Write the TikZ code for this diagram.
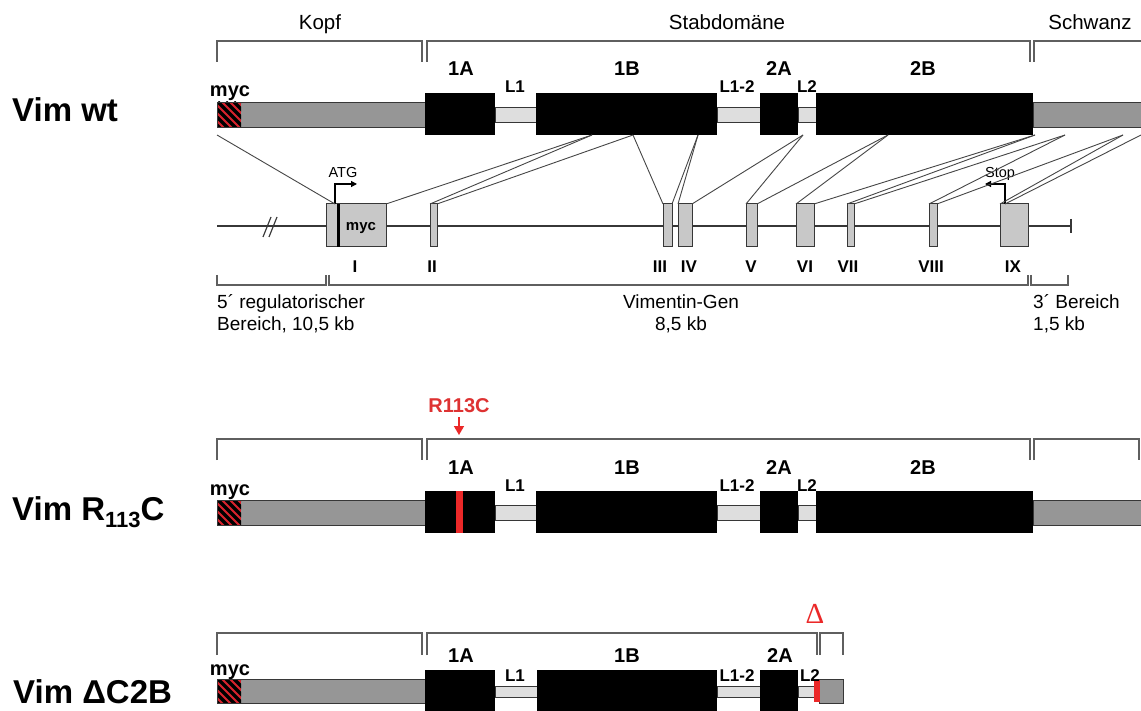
\documentclass[tikz,border=0pt]{standalone}
\usepackage{fontspec}
\setmainfont{Liberation Sans}
\newfontfamily\serifdelta{Liberation Serif}
\usetikzlibrary{arrows.meta}
\definecolor{barg}{RGB}{150,150,150}
\definecolor{lnkg}{RGB}{222,222,222}
\definecolor{exg}{RGB}{200,200,200}
\definecolor{lineg}{RGB}{55,55,55}
\definecolor{brkg}{RGB}{95,95,95}
\definecolor{conng}{RGB}{70,70,70}
\definecolor{mycred}{RGB}{215,35,45}
\definecolor{mutred}{RGB}{235,40,40}
\definecolor{txtred}{RGB}{222,50,50}
\newcommand\fs[1]{\fontsize{#1}{#1}\selectfont}
\newcommand\mychatch[2]{%
  \begin{scope}
    \clip (218,#1) rectangle (241,#2);
    \fill[mycred] (218,#1) rectangle (241,#2);
    \foreach \k in {0,8,...,56} \draw[black,line width=3.2] (186+\k,#1) -- ++(30,30);
  \end{scope}}
\begin{document}
\begin{tikzpicture}[x=1pt,y=-1pt,
  dom/.style={fill=black},
  hbar/.style={fill=barg,draw=lineg,line width=0.9},
  lbar/.style={fill=lnkg,draw=lineg,line width=0.9},
  brk/.style={draw=brkg,line width=1.6},
  conn/.style={draw=conng,line width=0.9},
  exon/.style={draw=lineg,fill=exg,line width=1,inner sep=0,outer sep=0,minimum height=43pt},
  dlab/.style={font=\bfseries\fs{20},anchor=base,inner sep=0},
  llab/.style={font=\bfseries\fs{17},anchor=base,inner sep=0},
  rowlab/.style={font=\bfseries\fs{33},anchor=base west,inner sep=0},
  reglab/.style={font=\fs{20.5},anchor=base,inner sep=0},
  elab/.style={font=\bfseries\fs{17},anchor=base,inner sep=0},
  gtxt/.style={font=\fs{19},anchor=base west,inner sep=0},
  gtxtc/.style={font=\fs{19},anchor=base,inner sep=0},
  tinylab/.style={font=\fs{14.5},anchor=base,inner sep=0},
  arr/.style={draw=black,line width=1.2,-{Triangle[length=6pt,width=6pt]}},
]
\fill[white] (0,0) rectangle (1141,711);
\useasboundingbox (0,0) rectangle (1141,711);

%================ Row 1: Vim wt =================
\node[reglab] (kopf) at (320,30) {Kopf};
\node[reglab] (stab) at (727,30) {Stabdomäne};
\node[reglab] (schw) at (1090,30) {Schwanz};
\draw[brk] (217,62) -- (217,41) -- (422,41) -- (422,62);
\draw[brk] (427,62) -- (427,41) -- (1030,41) -- (1030,62);
\draw[brk] (1034,62) -- (1034,41) -- (1150,41);

\draw[hbar] (217,102) rectangle (425,127);
\mychatch{102}{127}
\draw[lineg,line width=0.9] (217,102) rectangle (425,127);
\draw[lbar] (495,107) rectangle (536,122);
\draw[lbar] (717,107) rectangle (760,122);
\draw[lbar] (798,107) rectangle (816,122);
\fill[dom] (425,93) rectangle (495,135);
\fill[dom] (536,93) rectangle (717,135);
\fill[dom] (760,93) rectangle (798,135);
\fill[dom] (816,93) rectangle (1033,135);
\draw[hbar] (1033,102) rectangle (1150,127);

\node[dlab] (a1A) at (461,76) {1A};
\node[llab] (aL1) at (515,93) {L1};
\node[dlab] (a1B) at (627,76) {1B};
\node[llab] (aL12) at (737,93) {L1-2};
\node[dlab] (a2A) at (779,76) {2A};
\node[llab] (aL2) at (807,93) {L2};
\node[dlab] (a2B) at (923,76) {2B};
\node[dlab] (amyc) at (230,97) {myc};
\node[rowlab] (vwt) at (12,122) {Vim wt};

%================ Gene structure =================
\coordinate (gstart) at (217,226);
\coordinate (gend) at (1071,226);
\draw[lineg,line width=1.4] (gstart) -- (gend);
\draw[lineg,line width=1.4] (1071,219) -- (1071,233);
\draw[lineg,line width=1.2] (263,237) -- (271,217);
\draw[lineg,line width=1.2] (269,237) -- (277,217);

\node[exon,minimum width=60pt] (e1) at (356,225.5) {};
\draw[black,line width=3.2] (338.5,204) -- (338.5,247);
\node[font=\bfseries\fs{15},anchor=base,inner sep=0] (emyc) at (361,231) {myc};
\node[exon,minimum width=7pt]  (e2) at (433.5,225.5) {};
\node[exon,minimum width=9pt]  (e3) at (667.5,225.5) {};
\node[exon,minimum width=14pt] (e4) at (685,225.5) {};
\node[exon,minimum width=11pt] (e5) at (751.5,225.5) {};
\node[exon,minimum width=18pt] (e6) at (805,225.5) {};
\node[exon,minimum width=7pt]  (e7) at (850.5,225.5) {};
\node[exon,minimum width=8pt]  (e8) at (933,225.5) {};
\node[exon,minimum width=28pt] (e9) at (1014,225.5) {};

\node[elab] (l1) at (355,273) {I};
\node[elab] (l2) at (432,273) {II};
\node[elab] (l3) at (660,273) {III};
\node[elab] (l4) at (689,273) {IV};
\node[elab] (l5) at (751,273) {V};
\node[elab] (l6) at (805,273) {VI};
\node[elab] (l7) at (848,273) {VII};
\node[elab] (l8) at (931,273) {VIII};
\node[elab] (l9) at (1013,273) {IX};

\coordinate (atgfoot) at (335,204);
\coordinate (atgtip) at (357,184);
\draw[arr] (atgfoot) |- (atgtip);
\node[tinylab] (atg) at (343,178) {ATG};
\coordinate (stopfoot) at (1005,204);
\coordinate (stoptip) at (985,184);
\draw[arr] (stopfoot) |- (stoptip);
\node[tinylab] (stop) at (1000,178) {Stop};

% connectors protein -> exons
\coordinate (p0) at (217,135);
\coordinate (p1) at (592,135);
\coordinate (p2) at (633,135);
\coordinate (p3) at (698,135);
\coordinate (p4) at (803,135);
\coordinate (p5) at (888,135);
\coordinate (p6) at (1035,135);
\coordinate (p7) at (1065,135);
\coordinate (p8) at (1123,135);
\coordinate (p9) at (1141,135);
\draw[conn] (p0) -- (atgfoot);
\draw[conn] (p1) -- (e1.north east);
\draw[conn] (p1) -- (e2.north west);
\draw[conn] (p2) -- (e2.north east);
\draw[conn] (p2) -- (e3.north west);
\draw[conn] (p3) -- (e3.north east);
\draw[conn] (p3) -- (e4.north west);
\draw[conn] (p4) -- (e4.north east);
\draw[conn] (p4) -- (e5.north west);
\draw[conn] (p5) -- (e5.north east);
\draw[conn] (p5) -- (e6.north west);
\draw[conn] (p6) -- (e6.north east);
\draw[conn] (p6) -- (e7.north west);
\draw[conn] (p7) -- (e7.north east);
\draw[conn] (p7) -- (e8.north west);
\draw[conn] (p8) -- (e8.north east);
\draw[conn] (p8) -- (e9.north west);
\draw[conn] (p9) -- (stopfoot);

% gene brackets
\draw[brk,line width=1.3] (217,275) -- (217,285) -- (326,285) -- (326,275);
\draw[brk,line width=1.3] (329,275) -- (329,285) -- (1028,285) -- (1028,275);
\draw[brk,line width=1.3] (1031,275) -- (1031,285) -- (1068,285) -- (1068,275);
\node[gtxt] (t5a) at (217,309) {5´ regulatorischer};
\node[gtxt] (t5b) at (217,331) {Bereich, 10,5 kb};
\node[gtxtc] (tva) at (681,309) {Vimentin-Gen};
\node[gtxtc] (tvb) at (681,331) {8,5 kb};
\node[gtxt] (t3a) at (1033,309) {3´ Bereich};
\node[gtxt] (t3b) at (1033,331) {1,5 kb};

%================ Row 2: Vim R113C =================
\begin{scope}[shift={(0,398)}]
\draw[brk] (217,62) -- (217,41) -- (422,41) -- (422,62);
\draw[brk] (427,62) -- (427,41) -- (1030,41) -- (1030,62);
\draw[brk] (1034,62) -- (1034,41) -- (1139,41) -- (1139,62);

\draw[hbar] (217,102) rectangle (425,127);
\mychatch{102}{127}
\draw[lineg,line width=0.9] (217,102) rectangle (425,127);
\draw[lbar] (495,107) rectangle (536,122);
\draw[lbar] (717,107) rectangle (760,122);
\draw[lbar] (798,107) rectangle (816,122);
\fill[dom] (425,93) rectangle (495,135);
\fill[dom] (536,93) rectangle (717,135);
\fill[dom] (760,93) rectangle (798,135);
\fill[dom] (816,93) rectangle (1033,135);
\draw[hbar] (1033,102) rectangle (1150,127);
\fill[mutred] (456,93) rectangle (463,135);

\node[dlab] (b1A) at (461,76) {1A};
\node[llab] (bL1) at (515,93) {L1};
\node[dlab] (b1B) at (627,76) {1B};
\node[llab] (bL12) at (737,93) {L1-2};
\node[dlab] (b2A) at (779,76) {2A};
\node[llab] (bL2) at (807,93) {L2};
\node[dlab] (b2B) at (923,76) {2B};
\node[dlab] (bmyc) at (230,97) {myc};

\node[font=\bfseries\fs{20},anchor=base,inner sep=0,text=txtred] (r113) at (459,15) {R113C};
\coordinate (mutpt) at (459,37);
\draw[mutred,line width=1.6,-{Triangle[length=9pt,width=10pt]}] ([yshift=-4pt]r113.south) -- (mutpt);
\node[rowlab] (vr) at (12,122) {Vim R\raisebox{-7pt}{\fs{22}113}C};
\end{scope}

%================ Row 3: Vim DeltaC2B =================
\draw[brk] (217,655) -- (217,633) -- (422,633) -- (422,655);
\draw[brk] (427,655) -- (427,633) -- (817,633) -- (817,655);
\draw[brk] (820,655) -- (820,633) -- (843,633) -- (843,655);
\node[font=\serifdelta\fs{29},anchor=base,inner sep=0,text=mutred] (delta) at (815,623) {Δ};

\draw[hbar] (217,679) rectangle (425,703);
\mychatch{679}{703}
\draw[lineg,line width=0.9] (217,679) rectangle (425,703);
\draw[lbar] (495,686) rectangle (537,697);
\draw[lbar] (717,686) rectangle (760,697);
\draw[lbar] (798,686) rectangle (814,697);
\fill[dom] (425,670) rectangle (495,716);
\fill[dom] (537,670) rectangle (717,716);
\fill[dom] (760,670) rectangle (798,716);
\draw[hbar] (819,679) rectangle (843,703);
\fill[mutred] (814,680) rectangle (819.5,702);

\node[dlab] (c1A) at (461,662) {1A};
\node[llab] (cL1) at (515,681) {L1};
\node[dlab] (c1B) at (627,662) {1B};
\node[llab] (cL12) at (737,681) {L1-2};
\node[dlab] (c2A) at (780,662) {2A};
\node[llab] (cL2) at (810,681) {L2};
\node[dlab] (cmyc) at (230,675) {myc};
\node[rowlab] (vd) at (13,703) {Vim ΔC2B};
\end{tikzpicture}
\end{document}
